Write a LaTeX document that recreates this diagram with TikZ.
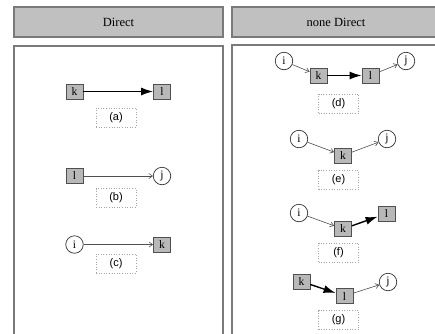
\documentclass[tikz,border=0pt]{standalone}
\usepackage{fontspec}
\setmainfont{Liberation Serif}
\newfontfamily\labfont{Liberation Sans}
\usetikzlibrary{arrows.meta}
\definecolor{hdrgray}{HTML}{C0C0C0}
\definecolor{boxgray}{HTML}{B8B8B8}
\definecolor{edgegray}{HTML}{7A7A7A}
\definecolor{linegray}{HTML}{505050}
\begin{document}
\begin{tikzpicture}[x=1pt,y=-1pt,
  hdr/.style={draw=edgegray, line width=1.2pt, fill=hdrgray, minimum height=30pt, inner sep=0pt, font=\fontsize{12.5}{14}\selectfont},
  panel/.style={draw=edgegray, line width=1.2pt},
  sq/.style={draw=linegray, line width=0.8pt, fill=boxgray, minimum width=17pt, minimum height=15pt, inner sep=0pt, font=\fontsize{11.5}{12}\selectfont},
  circ/.style={draw=black!80, line width=0.7pt, fill=white, circle, minimum size=17.5pt, inner sep=0pt, font=\fontsize{11.5}{12}\selectfont},
  lbl/.style={draw=gray!70, dotted, line width=0.6pt, minimum width=40pt, minimum height=19pt, inner sep=0pt, font=\labfont\fontsize{11}{12}\selectfont},
  thin/.style={draw=linegray, line width=0.6pt, -{Straight Barb[length=3.5pt,width=5pt]}},
  thick/.style={draw=black, line width=1.4pt, -{Latex[length=12pt,width=8pt]}}
]
\useasboundingbox (0,0) rectangle (435,333);
\clip (0,0) rectangle (435,333);
\fill[white] (0,0) rectangle (435,333);
% headers
\node[hdr, minimum width=209pt] (hL) at (118.5,22) {Direct};
\node[hdr, minimum width=208pt] (hR) at (336,22) {none Direct};
% panels
\draw[panel] (14,46) rectangle (223,345);
\draw[panel] (232,45) rectangle (440,345);
% (a)
\node[sq] (ak) at (74.5,91.5) {k};
\node[sq] (al) at (162,91.5) {l};
\node[lbl] (la) at (116,117.5) {(a)};
\draw[thick] (ak) -- (al);
% (b)
\node[sq] (bl) at (74.5,176) {l};
\node[circ] (bj) at (162,176) {j};
\node[lbl] (lb) at (116,198) {(b)};
\draw[thin] (bl) -- (bj);
% (c)
\node[circ] (ci) at (74.5,244.5) {i};
\node[sq] (ck) at (162,244.5) {k};
\node[lbl] (lc) at (116,263.5) {(c)};
\draw[thin] (ci) -- (ck);
% (d)
\node[circ] (di) at (284,61) {i};
\node[sq] (dk) at (318.5,75.5) {k};
\node[sq] (dl) at (370.5,75.5) {l};
\node[circ] (dj) at (406,61) {j};
\node[lbl] (ld) at (338.5,103.5) {(d)};
\draw[thin] (di) -- (dk);
\draw[thick] (dk) -- (dl);
\draw[thin] (dl) -- (dj);
% (e)
\node[circ] (ei) at (299,139) {i};
\node[sq] (ek) at (343,155.5) {k};
\node[circ] (ej) at (387,139) {j};
\node[lbl] (le) at (338.5,180) {(e)};
\draw[thin] (ei) -- (ek);
\draw[thin] (ek) -- (ej);
% (f)
\node[circ] (fi) at (299,213) {i};
\node[sq] (fk) at (343,229) {k};
\node[sq] (fl) at (386.5,213.5) {l};
\node[lbl] (lf) at (338.5,252.5) {(f)};
\draw[thin] (fi) -- (fk);
\draw[thick] (fk) -- (fl);
% (g)
\node[sq] (gk) at (301.5,281.5) {k};
\node[sq] (gl) at (344.5,296) {l};
\node[circ] (gj) at (388,282) {j};
\node[lbl] (lg) at (338.5,320) {(g)};
\draw[thick] (gk) -- (gl);
\draw[thin] (gl) -- (gj);
\end{tikzpicture}
\end{document}
